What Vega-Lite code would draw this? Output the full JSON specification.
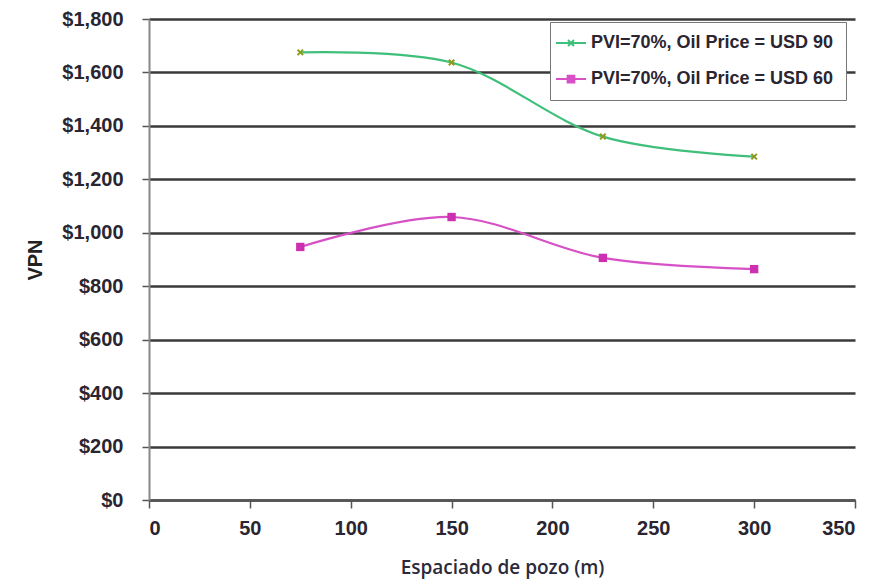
{
  "$schema": "https://vega.github.io/schema/vega-lite/v6.json",
  "width": 706,
  "height": 481,
  "autosize": "none",
  "padding": {"left": 149, "top": 19, "right": 21, "bottom": 86},
  "background": "white",
  "config": {"view": {"stroke": null}},
  "data": {"values": [
    {"x": 75, "v": 1675, "s": "PVI=70%, Oil Price = USD 90"},
    {"x": 150, "v": 1637, "s": "PVI=70%, Oil Price = USD 90"},
    {"x": 225, "v": 1360, "s": "PVI=70%, Oil Price = USD 90"},
    {"x": 300, "v": 1285, "s": "PVI=70%, Oil Price = USD 90"},
    {"x": 75, "v": 947, "s": "PVI=70%, Oil Price = USD 60"},
    {"x": 150, "v": 1059, "s": "PVI=70%, Oil Price = USD 60"},
    {"x": 225, "v": 906, "s": "PVI=70%, Oil Price = USD 60"},
    {"x": 300, "v": 864, "s": "PVI=70%, Oil Price = USD 60"}
  ]},
  "encoding": {
    "x": {"field": "x", "type": "quantitative", "scale": {"domain": [0, 350], "nice": false},
      "axis": {"values": [0, 50, 100, 150, 200, 250, 300, 350], "grid": false, "title": "Espaciado  de pozo (m)",
        "titleFont": "Open Sans", "titleFontSize": 19, "titleFontWeight": 600, "titleColor": "#2a2a3a", "titlePadding": 20,
        "labelFont": "Liberation Sans", "labelFontSize": 20, "labelFontWeight": "bold", "labelColor": "#2a2530", "labelPadding": 10,
        "domainColor": "#555", "domainWidth": 2.5, "tickColor": "#555", "tickSize": 8, "tickWidth": 1.5}},
    "y": {"field": "v", "type": "quantitative", "scale": {"domain": [0, 1800], "nice": false},
      "axis": {"values": [0, 200, 400, 600, 800, 1000, 1200, 1400, 1600, 1800], "format": "$,.0f", "title": "VPN",
        "titleFont": "Liberation Sans", "titleFontSize": 20, "titleFontWeight": "bold", "titleColor": "#222", "titlePadding": 16,
        "labelFont": "Liberation Sans", "labelFontSize": 20, "labelFontWeight": "bold", "labelColor": "#2a2530", "labelPadding": 19,
        "grid": true, "gridColor": "#3a3a3a", "gridWidth": 2.5, "domainColor": "#888", "domainWidth": 2,
        "tickColor": "#555", "tickSize": 7, "tickWidth": 1.5}},
    "color": {"field": "s", "type": "nominal",
      "scale": {"domain": ["PVI=70%, Oil Price = USD 90", "PVI=70%, Oil Price = USD 60"], "range": ["#3fbf7a", "#d650c6"]},
      "legend": {"title": null, "orient": "none", "legendX": 401, "legendY": 3, "padding": 12,
        "strokeColor": "#777", "fillColor": "white", "labelFont": "Liberation Sans", "labelFontSize": 18,
        "labelFontWeight": "bold", "labelColor": "#2a2530", "rowPadding": 18, "symbolSize": 225,
        "symbolOpacity": 1, "symbolStrokeWidth": 2, "labelOffset": 11, "labelLimit": 400}}
  },
  "layer": [
    {"mark": {"type": "line", "interpolate": "catmull-rom", "strokeWidth": 2.2}},
    {"transform": [{"filter": "datum.s == 'PVI=70%, Oil Price = USD 90'"}],
      "mark": {"type": "point", "filled": false, "size": 100, "strokeWidth": 2, "opacity": 1,
        "shape": "M-0.55,-0.55L0.55,0.55M-0.55,0.55L0.55,-0.55"},
      "encoding": {"color": {"value": "#8f9a1a"}}},
    {"transform": [{"filter": "datum.s == 'PVI=70%, Oil Price = USD 60'"}],
      "mark": {"type": "square", "filled": true, "size": 70, "opacity": 1},
      "encoding": {"color": {"value": "#cc30b0"}}},
    {"mark": {"type": "point", "filled": false, "size": 225, "opacity": 0},
      "encoding": {
        "shape": {"field": "s", "type": "nominal",
          "scale": {"domain": ["PVI=70%, Oil Price = USD 90", "PVI=70%, Oil Price = USD 60"],
            "range": ["M-2,0H2M-0.4,-0.4L0.4,0.4M-0.4,0.4L0.4,-0.4", "M-2,0H2M-0.45,-0.45H0.45V0.45H-0.45ZM-0.45,-0.22H0.45M-0.45,0H0.45M-0.45,0.22H0.45"]}}}}
  ]
}
